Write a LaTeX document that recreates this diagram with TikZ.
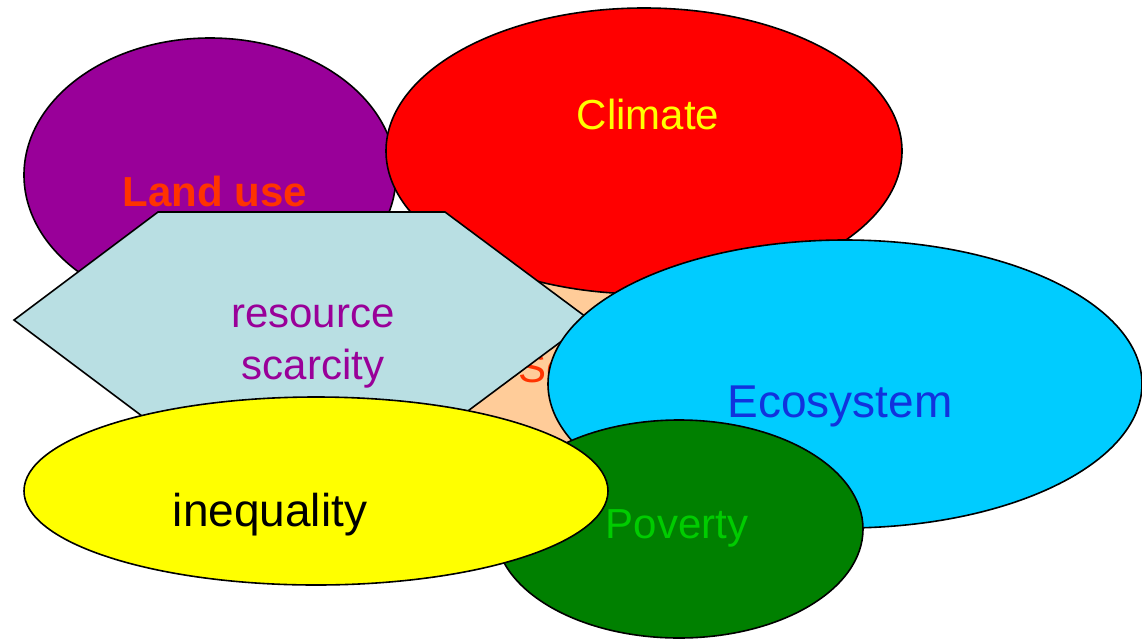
\documentclass[tikz,border=0pt]{standalone}
\usepackage{fontspec}
\setmainfont{Liberation Sans}
\usetikzlibrary{shapes.geometric}
\definecolor{cpurple}{HTML}{990099}
\definecolor{cred}{HTML}{FF0000}
\definecolor{ccyan}{HTML}{00CCFF}
\definecolor{cgreen}{HTML}{008000}
\definecolor{cyellow}{HTML}{FFFF00}
\definecolor{chex}{HTML}{B9DFE3}
\definecolor{cpeach}{HTML}{FFCC99}
\definecolor{corange}{HTML}{FF3300}
\definecolor{cblue}{HTML}{1133DD}
\definecolor{clgreen}{HTML}{00CC00}
\tikzset{
  blob/.style={ellipse, draw=black, line width=1.6pt, inner sep=0pt},
  lbl/.style={inner sep=0pt, font=\fontsize{42}{52}\selectfont},
  biglbl/.style={inner sep=0pt, font=\fontsize{46}{52}\selectfont},
}
\begin{document}
\begin{tikzpicture}[x=1pt,y=-1pt]
\useasboundingbox (0,0) rectangle (1142,640);
% hidden central shape
\node[ellipse, fill=cpeach, minimum width=300pt, minimum height=230pt, inner sep=0pt] (core) at (520,340) {};
\node[lbl, text=corange, anchor=west] (coretext) at (518,372) {Security};
% Land use
\node[blob, fill=cpurple, minimum width=372pt, minimum height=274pt] (landuse) at (210,175) {};
\node[lbl, text=corange, font=\fontsize{42}{52}\selectfont\bfseries] (landusetext) at (215,191) {Land use};
% Climate
\node[blob, fill=cred, minimum width=516pt, minimum height=286pt] (climate) at (644,151) {};
\node[lbl, text=cyellow] (climatetext) at (648,114) {Climate};
% resource scarcity hexagon
\coordinate (h1) at (14,320);
\coordinate (h2) at (158,212);
\coordinate (h3) at (445,212);
\coordinate (h4) at (590,320);
\coordinate (h5) at (445,428);
\coordinate (h6) at (158,428);
\draw[fill=chex, line width=1.6pt, line join=miter] (h1) -- (h2) -- (h3) -- (h4) -- (h5) -- (h6) -- cycle;
\node[lbl, text=cpurple, align=center] (scarcity) at (313,347) {resource\\scarcity};
% Ecosystem
\node[blob, fill=ccyan, minimum width=594pt, minimum height=288pt] (ecosystem) at (845,384) {};
\node[biglbl, text=cblue] (ecotext) at (840,406) {Ecosystem};
% Poverty
\node[blob, fill=cgreen, minimum width=368pt, minimum height=218pt] (poverty) at (679,529) {};
\node[lbl, text=clgreen] (povtext) at (677,528) {Poverty};
% inequality
\node[blob, fill=cyellow, minimum width=584pt, minimum height=188pt] (inequality) at (316,491) {};
\node[biglbl, text=black] (ineqtext) at (270,515) {inequality};
\end{tikzpicture}
\end{document}
